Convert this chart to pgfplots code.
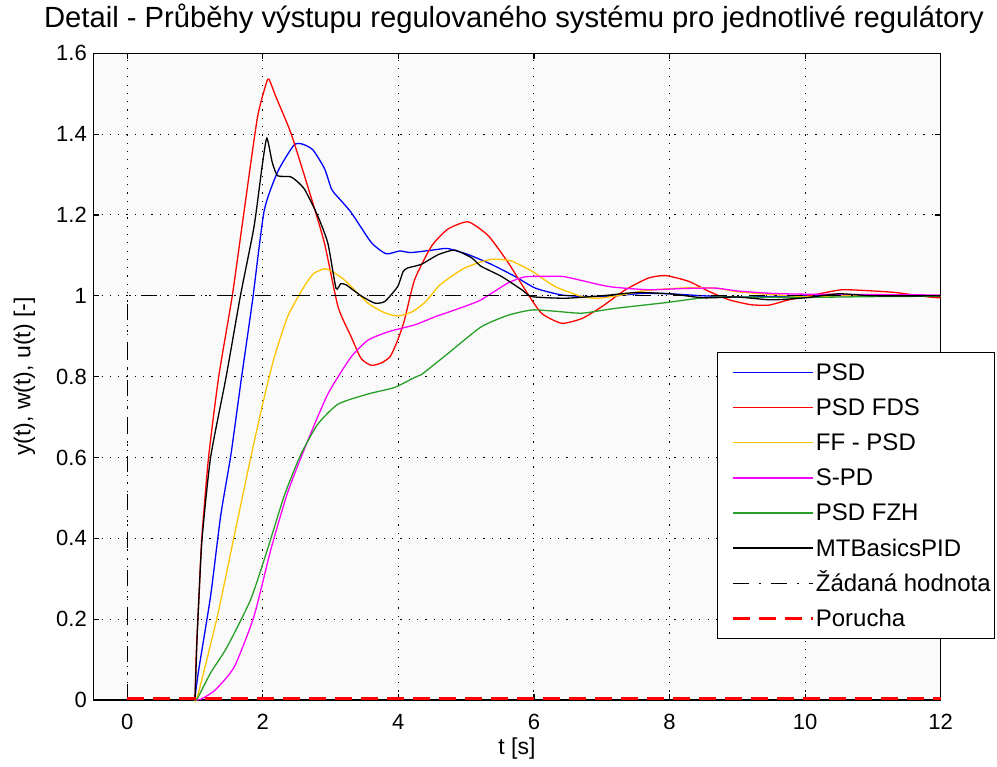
\documentclass[border=0pt]{standalone}
\usepackage{fontspec}
\setmainfont{Liberation Sans}
\usepackage{pgfplots}
\pgfplotsset{compat=1.18}
\definecolor{cblue}{RGB}{0,0,255}
\definecolor{cred}{RGB}{255,0,0}
\definecolor{cyel}{RGB}{255,196,0}
\definecolor{cmag}{RGB}{255,0,255}
\definecolor{cgreen}{RGB}{40,160,40}
\definecolor{cbg}{RGB}{250,250,250}
\begin{document}
\begin{tikzpicture}
\begin{axis}[
  at={(0pt,0pt)}, anchor=south west,
  scale only axis, width=847.4pt, height=646.7pt,
  xmin=-0.5, xmax=12, ymin=0, ymax=1.6,
  clip=false,
  xtick={0,2,4,6,8,10,12},
  ytick={0,0.2,0.4,0.6,0.8,1,1.2,1.4,1.6},
  tick align=inside, tick pos=both, major tick length=6pt,
  grid=major,
  major grid style={black, line width=1pt, dash pattern=on 1.2pt off 7.1pt},
  axis background/.style={fill=cbg},
  axis line style={black, line width=1.2pt},
  every tick/.style={black, line width=1.2pt},
  /pgf/number format/assume math mode=true,
  ticklabel style={font=\fontsize{22}{26}\selectfont},
  xticklabel style={anchor=base, yshift=-29.3pt},
  yticklabel style={anchor=east, xshift=-3pt},
  title={Detail - Průběhy výstupu regulovaného systému pro jednotlivé regulátory},
  title style={font=\fontsize{29.2}{34}\selectfont, at={(axis description cs:0.4965,1.0309)}, anchor=base, inner sep=0pt},
  xlabel={t [s]},
  xlabel style={font=\fontsize{23}{27}\selectfont, at={(axis description cs:0.5,-0.085)}, anchor=base, inner sep=0pt},
  ylabel={y(t), w(t), u(t) [-]},
  ylabel style={font=\fontsize{23}{27}\selectfont, at={(axis description cs:-0.0814,0.5)}, anchor=center, inner sep=0pt},
  legend style={at={(axis description cs:0.7356,0.5381)}, anchor=north west, draw=black, line width=1.2pt, fill=white,
    font=\fontsize{24}{28}\selectfont, inner xsep=2pt, inner ysep=2.4pt,
    nodes={inner xsep=2pt, inner ysep=6.55pt, text height=19pt, text depth=3pt}},
  legend cell align=left,
  legend image code/.code={\path (0pt,0pt); \draw[#1] (12pt,0pt) -- (92pt,0pt);},
  curve/.style={line width=1.3pt, smooth, tension=0.35},
]
\addplot[cblue, curve] coordinates {
(1.0,0) (1.01,0.02) (1.06,0.08) (1.23,0.257) (1.38,0.457) (1.53,0.607) (1.68,0.79) (1.85,0.99)
(2.02,1.21) (2.22,1.307) (2.46,1.373) (2.59,1.375) (2.74,1.361) (2.91,1.315) (3.01,1.265) (3.05,1.255)
(3.30,1.207) (3.60,1.132) (3.82,1.104) (4.02,1.111) (4.19,1.107) (4.59,1.115) (4.73,1.117) (5.03,1.102)
(5.37,1.078) (5.72,1.048) (6.02,1.019) (6.41,1.002) (6.8,0.998) (7.2,1.0) (7.6,1.006) (8.0,1.005)
(8.5,1.0) (9.0,0.997) (9.5,0.998) (10,1.0) (11,1.0) (12,1.0)};
\addlegendentry{PSD}
\addplot[cred, curve] coordinates {
(1.0,0) (1.02,0.12) (1.06,0.26) (1.10,0.4) (1.20,0.6) (1.35,0.8) (1.55,1.0) (1.72,1.204)
(1.92,1.44) (2.05,1.525) (2.09,1.536) (2.2,1.49) (2.42,1.40) (2.71,1.245) (2.91,1.13) (3.11,0.973)
(3.3,0.9) (3.45,0.845) (3.60,0.828) (3.75,0.834) (3.88,0.85) (3.99,0.89) (4.09,0.94) (4.24,1.04)
(4.49,1.123) (4.73,1.165) (5.03,1.183) (5.33,1.148) (5.62,1.082) (5.87,1.015) (6.11,0.957) (6.41,0.932)
(6.71,0.944) (7.00,0.973) (7.35,1.015) (7.69,1.044) (7.94,1.05) (8.28,1.036) (8.58,1.011) (8.88,0.99)
(9.2,0.978) (9.47,0.977) (9.76,0.99) (10.21,1.005) (10.55,1.015) (11.0,1.012) (11.34,1.008) (11.83,0.997) (12,0.995)};
\addlegendentry{PSD FDS}
\addplot[cyel, curve] coordinates {
(1.0,0) (1.04,0.01) (1.33,0.207) (1.58,0.407) (1.82,0.598) (2.02,0.748) (2.17,0.848) (2.37,0.95)
(2.61,1.023) (2.75,1.055) (2.91,1.067) (3.0,1.062) (3.20,1.04) (3.55,0.982) (3.80,0.958) (3.99,0.95)
(4.2,0.96) (4.4,0.985) (4.6,1.025) (4.8,1.05) (4.98,1.069) (5.2,1.083) (5.37,1.09) (5.5,1.09) (5.67,1.086)
(5.97,1.061) (6.31,1.023) (6.71,0.998) (6.95,0.994) (7.30,1.002) (7.6,1.012) (7.94,1.017) (8.3,1.02)
(8.68,1.019) (9.0,1.01) (9.5,1.003) (10,0.998) (10.5,1.0) (11,1.003) (11.5,1.001) (12,1.0)};
\addlegendentry{FF - PSD}
\addplot[cmag, curve] coordinates {
(1.0,0) (1.1,0.003) (1.3,0.025) (1.58,0.082) (1.87,0.207) (2.12,0.373) (2.37,0.515) (2.66,0.64)
(2.96,0.757) (3.30,0.848) (3.55,0.89) (3.85,0.911) (4.24,0.928) (4.54,0.948) (4.78,0.962) (5.0,0.975)
(5.22,0.99) (5.62,1.032) (5.87,1.047) (6.2,1.048) (6.46,1.047) (7.10,1.023) (7.69,1.015) (8.2,1.018)
(8.68,1.019) (9.0,1.012) (9.5,1.006) (10,1.004) (11,1.003) (12,1.002)};
\addlegendentry{S-PD}
\addplot[cgreen, curve] coordinates {
(1.0,0) (1.04,0.005) (1.23,0.067) (1.47,0.13) (1.82,0.248) (2.07,0.373) (2.32,0.507) (2.56,0.607)
(2.81,0.682) (3.11,0.732) (3.55,0.757) (3.94,0.773) (4.24,0.798) (4.34,0.805) (4.73,0.857) (5.22,0.923)
(5.62,0.952) (5.97,0.965) (6.3,0.962) (6.71,0.957) (7.20,0.969) (7.94,0.983) (8.43,0.994) (8.68,0.997)
(9.0,0.997) (10,0.996) (11,0.998) (12,0.999)};
\addlegendentry{PSD FZH}
\addplot[black, curve] coordinates {
(1.0,0) (1.03,0.15) (1.06,0.26) (1.105,0.4) (1.23,0.6) (1.46,0.8) (1.67,1.0) (1.87,1.17)
(1.99,1.32) (2.06,1.39) (2.14,1.33) (2.22,1.297) (2.42,1.294) (2.61,1.265) (2.81,1.198) (2.96,1.13)
(3.08,1.019) (3.15,1.03) (3.23,1.027) (3.45,1.0) (3.65,0.982) (3.80,0.986) (3.99,1.023) (4.07,1.06)
(4.14,1.069) (4.34,1.078) (4.59,1.102) (4.83,1.113) (5.08,1.094) (5.22,1.073) (5.52,1.048) (5.82,1.015)
(5.97,0.998) (6.46,0.994) (7.0,1.0) (7.5,1.008) (8.0,1.005) (8.5,0.995) (9.0,0.997) (9.5,0.99)
(10,0.995) (10.5,1.005) (11,1.0) (12,1.0)};
\addlegendentry{MTBasicsPID}
\addplot[black, line width=1pt, dash pattern=on 16pt off 10pt on 2pt off 10pt] coordinates {(0,0) (0,1) (12,1)};
\addlegendentry{Žádaná hodnota}
\addplot[color=red, draw=red, line width=2.6pt, dash pattern=on 17pt off 9pt] coordinates {(0,0.004) (12,0.004)};
\addlegendentry{Porucha}
\end{axis}
\pgfresetboundingbox
\path (-93.3pt,-67pt) rectangle (903.7pt,700pt);
\end{tikzpicture}
\end{document}
